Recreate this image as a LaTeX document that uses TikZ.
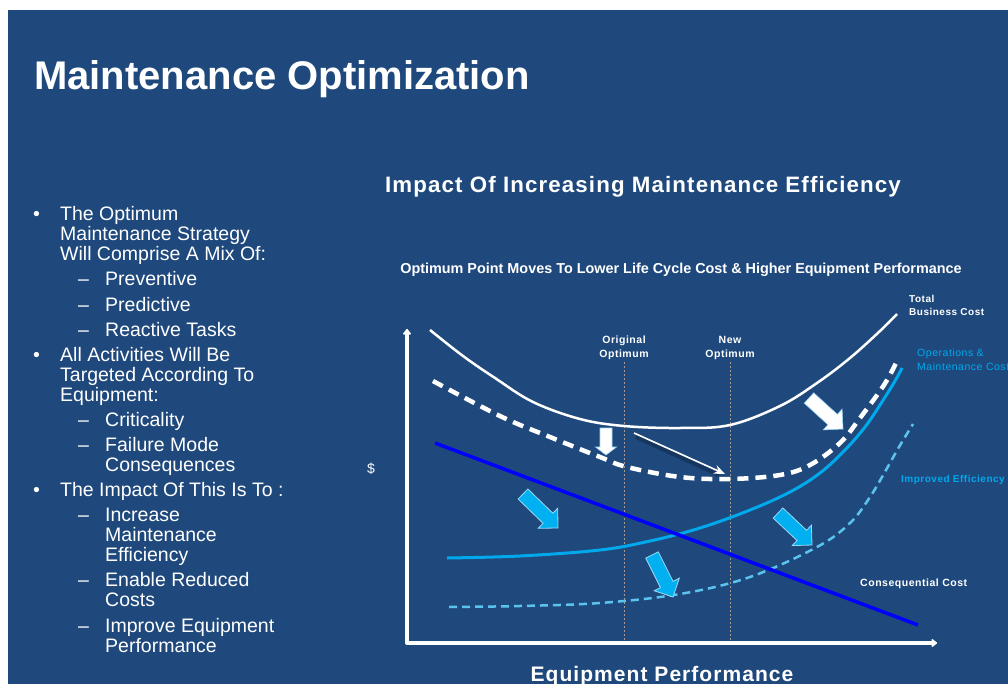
\documentclass[tikz,border=0pt]{standalone}
\usepackage{fontspec}
\setmainfont{Liberation Sans}
\newfontfamily\trk[LetterSpace=5]{Liberation Sans}
\usetikzlibrary{arrows.meta,calc}
\definecolor{bg}{HTML}{1F497D}
\definecolor{lblue}{HTML}{00A8EC}
\definecolor{arrblue}{HTML}{00B0F0}
\definecolor{arredge}{HTML}{9AD8F4}
\definecolor{dblue}{HTML}{5BC3EE}
\definecolor{pureblue}{HTML}{0000FF}
\definecolor{dotc}{HTML}{A89A88}
\newcommand\blockarr[6]{%
  \coordinate (hb) at ($(#3)!#6!(#2)$);
  \path[#1] ($(#2)!#4!90:(#3)$) -- ($(hb)!#4!-90:(#2)$) -- ($(hb)!#5!-90:(#2)$) -- (#3)
    -- ($(hb)!#5!90:(#2)$) -- ($(hb)!#4!90:(#2)$) -- ($(#2)!#4!-90:(#3)$) -- cycle;}
\tikzset{
  bul/.style={text=white, inner sep=0pt, anchor=base west, font=\fontsize{19.5}{20}\selectfont},
  lbl/.style={inner sep=0pt, anchor=base west, font=\trk\bfseries\fontsize{10}{11}\selectfont},
  axis/.style={white, line width=3.5pt, line cap=round},
  tbc/.style={white, line width=2.5pt},
  omd/.style={white, line width=4.5pt, dash pattern=on 11pt off 7pt},
  oms/.style={lblue, line width=3pt},
  ime/.style={dblue, line width=2.5pt, dash pattern=on 8pt off 5pt},
  cons/.style={pureblue, line width=3.5pt},
  vdot/.style={dotc, line width=0.9pt, dash pattern=on 2pt off 2pt},
  warr/.style={fill=white, draw=arredge, line width=0.6pt},
  barr/.style={fill=arrblue, draw=arredge, line width=0.8pt},
}
\begin{document}
\begin{tikzpicture}[x=1pt,y=-1pt]
\useasboundingbox (0,0) rectangle (1008,684);
\fill[white] (0,0) rectangle (1008,684);
\fill[bg] (8,10) rectangle (1008,684);

% title
\node[text=white, inner sep=0pt, anchor=base west, font=\bfseries\fontsize{40}{44}\selectfont] (title) at (34,90) {Maintenance Optimization};

% bullet list
\foreach \xx/\yy/\txt [count=\i] in {
  60/221/{The Optimum}, 60/241/{Maintenance Strategy}, 60/261/{Will Comprise A Mix Of:},
  105/286/{Preventive}, 105/311/{Predictive}, 105/336/{Reactive Tasks},
  60/361/{All Activities Will Be}, 60/381/{Targeted According To}, 60/401/{Equipment:},
  105/426/{Criticality}, 105/451/{Failure Mode}, 105/471/{Consequences},
  60/496/{The Impact Of This Is To :},
  105/521/{Increase}, 105/541/{Maintenance}, 105/561/{Efficiency},
  105/586/{Enable Reduced}, 105/606/{Costs},
  105/632/{Improve Equipment}, 105/652/{Performance}}
  \node[bul] (line\i) at (\xx,\yy) {\txt};
\foreach \yy [count=\i] in {221,361,496}
  \node[bul] (dot\i) at (33,\yy) {•};
\foreach \yy [count=\i] in {286,311,336,426,451,521,586,632}
  \node[bul] (dash\i) at (78,\yy) {–};

% chart titles
\node[text=white, inner sep=0pt, anchor=base, font=\trk\bfseries\fontsize{22.3}{26}\selectfont] (ctitle) at (643,193) {Impact Of Increasing Maintenance Efficiency};
\node[text=white, inner sep=0pt, anchor=base, font=\bfseries\fontsize{14.4}{16}\selectfont] (csub) at (681,274) {Optimum Point Moves To Lower Life Cycle Cost \& Higher Equipment Performance};

% axes
\coordinate (O) at (407,643);
\coordinate (ytop) at (407,329);
\coordinate (xend) at (937,643);
\draw[axis, -{Triangle[width=9pt,length=6pt,round]}] (O) -- (ytop);
\draw[axis, -{Triangle[width=9pt,length=6pt,round]}] (O) -- (xend);
\node[text=white, inner sep=0pt, anchor=base, font=\trk\bfseries\fontsize{21}{24}\selectfont] (xlabel) at (662,681) {Equipment Performance};
\node[text=white, inner sep=0pt, anchor=base, font=\fontsize{14}{16}\selectfont] (ylabel) at (371,473) {\$};

% optimum markers
\coordinate (orig top) at (624,362);
\coordinate (orig bot) at (624,641);
\coordinate (new top) at (730,362);
\coordinate (new bot) at (730,641);
\draw[vdot] (orig top) -- (orig bot);
\draw[vdot] (new top) -- (new bot);
\node[lbl, text=white, anchor=base, font=\trk\bfseries\fontsize{10.5}{12}\selectfont] (orig1) at (624,343) {Original};
\node[lbl, text=white, anchor=base, font=\trk\bfseries\fontsize{10.5}{12}\selectfont] (orig2) at (624,357) {Optimum};
\node[lbl, text=white, anchor=base, font=\trk\bfseries\fontsize{10.5}{12}\selectfont] (new1) at (730,343) {New};
\node[lbl, text=white, anchor=base, font=\trk\bfseries\fontsize{10.5}{12}\selectfont] (new2) at (730,357) {Optimum};

% curves
\draw[ime] plot[smooth, tension=0.6] coordinates {(449,607) (520,606) (600,603) (680,594) (750,577) (817,547) (850,523) (870,497) (886,470) (899,447) (913,424)};
\draw[oms] plot[smooth, tension=0.6] coordinates {(447,558) (520,556) (600,550) (650,541) (700,528) (750,510) (790,492) (820,473) (845,450) (865,427) (880,405) (895,381) (902,368)};
\draw[cons] (435,443) -- (918,625);
\draw[omd] plot[smooth, tension=0.6] coordinates {(433,381) (500,416) (550,437) (600,457) (627,467) (680,477) (730,479) (780,475) (810,465) (840,443) (860,418) (884,385) (897,361)};
\draw[tbc] plot[smooth, tension=0.6] coordinates {(430,330) (463,356) (495,378) (533,402) (580,419) (624,426) (680,428) (730,425) (780,406) (817,383) (850,358) (880,331) (897,314)};

% curve labels
\node[lbl, text=white] (tbc1) at (909,302) {Total};
\node[lbl, text=white] (tbc2) at (909,316) {Business Cost};
\node[lbl, text=lblue, font=\trk\fontsize{10.5}{12}\selectfont] (om1) at (917,356) {Operations \&};
\node[lbl, text=lblue, font=\trk\fontsize{10.5}{12}\selectfont] (om2) at (917,370) {Maintenance Cost};
\node[lbl, text=lblue, font=\trk\bfseries\fontsize{10}{11}\selectfont] (ie) at (901,482) {Improved Efficiency};
\node[lbl, text=white, font=\trk\bfseries\fontsize{10.5}{12}\selectfont] (cc) at (860,586) {Consequential Cost};

% thin arrow old -> new optimum
\coordinate (mvs) at (634,433);
\coordinate (mve) at (725,474);
\draw[black, opacity=0.25, line width=4pt] ($(mvs)+(2,4)$) -- ($(mve)+(-6,1)$);
\draw[white, line width=1.6pt, -{Stealth[length=11pt,width=9pt]}] (mvs) -- (mve);

% block arrows
\coordinate (wa1t) at (606,428); \coordinate (wa1p) at (606,455);
\blockarr{warr}{wa1t}{wa1p}{6pt}{10.5pt}{8pt}
\coordinate (wa2t) at (809,398); \coordinate (wa2p) at (843,429);
\blockarr{warr}{wa2t}{wa2p}{7pt}{14pt}{14pt}
\coordinate (ba1t) at (523,494); \coordinate (ba1p) at (558,528);
\blockarr{barr}{ba1t}{ba1p}{7pt}{14pt}{14pt}
\coordinate (ba2t) at (652,555); \coordinate (ba2p) at (673,597);
\blockarr{barr}{ba2t}{ba2p}{7pt}{14pt}{14pt}
\coordinate (ba3t) at (778,513); \coordinate (ba3p) at (812,545);
\blockarr{barr}{ba3t}{ba3p}{7pt}{14pt}{14pt}
\end{tikzpicture}
\end{document}
